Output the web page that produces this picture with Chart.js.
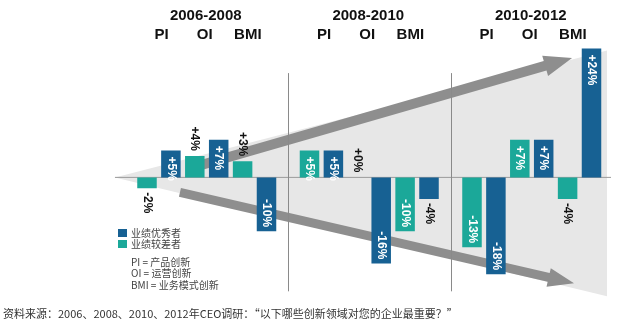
<!DOCTYPE html>
<html>
<head>
<meta charset="utf-8">
<script src="https://cdn.jsdelivr.net/npm/chart.js@4.4.1/dist/chart.umd.min.js"></script>
<style>
  body { margin: 0; background: #fff; }
  #wrap { position: relative; width: 640px; height: 330px; overflow: hidden; }
  canvas { position: absolute; left: 0; top: 0; }
  .note { position: absolute; font: 10px "Noto Sans CJK SC", sans-serif; color: #444; white-space: nowrap; line-height: 11px; }
  .swatch { position: absolute; width: 9px; height: 8px; }
  #source { position: absolute; left: 3px; top: 305px; font: 11px "Noto Sans CJK SC", sans-serif; color: #333; white-space: nowrap; }
</style>
</head>
<body>
<div id="wrap">
  <canvas id="myChart" width="640" height="330"></canvas>
  <div class="swatch" style="left:118px;top:229px;background:#176193"></div>
  <div class="note" style="left:131px;top:227px">业绩优秀者</div>
  <div class="swatch" style="left:118px;top:240px;background:#1ba899"></div>
  <div class="note" style="left:131px;top:238px">业绩较差者</div>
  <div class="note" style="left:131px;top:256px">PI = 产品创新</div>
  <div class="note" style="left:131px;top:267px">OI = 运营创新</div>
  <div class="note" style="left:131px;top:279px">BMI = 业务模式创新</div>
  <div id="source">资料来源：2006、2008、2010、2012年CEO调研：“以下哪些创新领域对您的企业最重要？”</div>
</div>
<script>
let periods = ["2006-2008", "2008-2010", "2010-2012"];
let innovationTypes = ["PI", "OI", "BMI"];
// rows: PI, OI, BMI ; columns: periods
let topPerformers = [[5, 5, -18], [7, -16, 7], [-10, -4, 24]];
let lowPerformers = [[-2, 5, -13], [4, 0, 7], [3, -10, -4]];

let darkBlue = "#176193";
let teal = "#1ba899";

let datasets = [];
innovationTypes.forEach(function(t, i) {
    datasets.push({ label: "业绩较差者 " + t, data: lowPerformers[i], backgroundColor: teal });
    datasets.push({ label: "业绩优秀者 " + t, data: topPerformers[i], backgroundColor: darkBlue });
});

function arrow(ctx, p0, p1, w, hw, hl) {
    let dx = p1.x - p0.x, dy = p1.y - p0.y;
    let len = Math.sqrt(dx * dx + dy * dy);
    let ux = dx / len, uy = dy / len;
    let nx = -uy, ny = ux;
    let bx = p1.x - ux * hl, by = p1.y - uy * hl;
    ctx.beginPath();
    ctx.moveTo(p0.x + nx * w / 2, p0.y + ny * w / 2);
    ctx.lineTo(bx + nx * w / 2, by + ny * w / 2);
    ctx.lineTo(bx + nx * hw / 2, by + ny * hw / 2);
    ctx.lineTo(p1.x, p1.y);
    ctx.lineTo(bx - nx * hw / 2, by - ny * hw / 2);
    ctx.lineTo(bx - nx * w / 2, by - ny * w / 2);
    ctx.lineTo(p0.x - nx * w / 2, p0.y - ny * w / 2);
    ctx.closePath();
    ctx.fill();
}

// funnel, arrows, zero line and period dividers behind the bars
let backdrop = {
    id: "backdrop",
    beforeDatasetsDraw: function(chart) {
        let ctx = chart.ctx;
        let xs = chart.scales.x, ys = chart.scales.y;
        let pt = function(c, v) { return { x: xs.getPixelForValue(c), y: ys.getPixelForValue(v) }; };
        ctx.save();

        let a = pt(-0.565, 0), b = pt(2.463, 23.6), c = pt(2.463, -22.1);
        ctx.fillStyle = "#e7e7e7";
        ctx.beginPath();
        ctx.moveTo(a.x, a.y);
        ctx.lineTo(b.x, b.y);
        ctx.lineTo(c.x, c.y);
        ctx.closePath();
        ctx.fill();

        ctx.fillStyle = "#8e8e8e";
        arrow(ctx, pt(-0.103, 1.7), pt(2.248, 22.2), 10, 21, 28);
        arrow(ctx, pt(-0.165, -2.8), pt(2.26, -19.7), 9, 19, 26);

        ctx.strokeStyle = "#9a9a9a";
        ctx.lineWidth = 1;
        ctx.beginPath();
        ctx.moveTo(a.x, a.y);
        ctx.lineTo(b.x + 4, a.y);
        ctx.stroke();

        ctx.strokeStyle = "#8a8a8a";
        [0.5, 1.5].forEach(function(c) {
            let top = pt(c, 19.4), bot = pt(c, -21.2);
            let x = Math.round(top.x) + 0.5;
            ctx.beginPath();
            ctx.moveTo(x, top.y);
            ctx.lineTo(x, bot.y);
            ctx.stroke();
        });
        ctx.restore();
    },
    afterDatasetsDraw: function(chart) {
        let ctx = chart.ctx;
        let xs = chart.scales.x;
        ctx.save();

        // rotated value labels
        ctx.font = "bold 12px 'Liberation Sans', Arial, sans-serif";
        ctx.textBaseline = "middle";
        chart.data.datasets.forEach(function(ds, di) {
            let meta = chart.getDatasetMeta(di);
            meta.data.forEach(function(bar, i) {
                let v = ds.data[i];
                let text = (v >= 0 ? "+" : "") + v + "%";
                let inside = Math.abs(v) >= 5;
                let top = Math.min(bar.y, bar.base), bottom = Math.max(bar.y, bar.base);
                let y, align;
                if (v > 0 && inside) { y = top + 6; align = "left"; }
                else if (v < 0 && inside) { y = bottom - 4; align = "right"; }
                else if (v >= 0) { y = top - 5; align = "right"; }
                else { y = bottom + 4; align = "left"; }
                ctx.save();
                ctx.translate(bar.x, y);
                ctx.rotate(Math.PI / 2);
                ctx.textAlign = align;
                ctx.fillStyle = inside ? "#ffffff" : "#111111";
                ctx.fillText(text, 0, 0);
                ctx.restore();
            });
        });

        // period titles and innovation type headers
        ctx.fillStyle = "#111111";
        ctx.textAlign = "center";
        ctx.font = "bold 15px 'Liberation Sans', Arial, sans-serif";
        periods.forEach(function(p, i) {
            ctx.fillText(p, xs.getPixelForValue(i) - 1, 16);
            innovationTypes.forEach(function(t, k) {
                ctx.fillText(t, xs.getPixelForValue(i + (k - 1) * 0.265) - 2, 35);
            });
        });
        ctx.restore();
    }
};

let myChart = document.getElementById("myChart").getContext("2d");
let innovChart = new Chart(myChart, {
    type: "bar",
    data: {
        labels: periods,
        datasets: datasets
    },
    options: {
        responsive: false,
        animation: false,
        events: [],
        layout: { padding: { left: 125.5, right: 27, top: 43, bottom: 29 } },
        datasets: {
            bar: { categoryPercentage: 0.8825, barPercentage: 0.816 }
        },
        plugins: {
            legend: { display: false },
            tooltip: { enabled: false },
            title: { display: false }
        },
        scales: {
            x: { display: false },
            y: { display: false, min: -23, max: 25 }
        }
    },
    plugins: [backdrop]
});
</script>
</body>
</html>
